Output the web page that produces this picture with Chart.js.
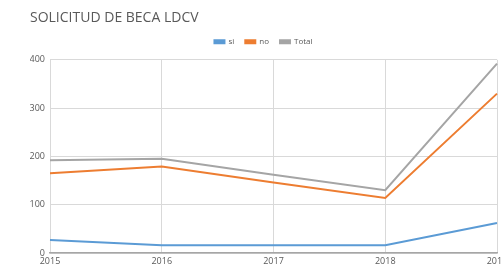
<!DOCTYPE html>
<html>
<head>
<meta charset="utf-8">
<script src="https://cdn.jsdelivr.net/npm/chart.js@4"></script>
<style>
  html, body { margin: 0; padding: 0; background: #fff; overflow: hidden; }
  #wrap { width: 520px; height: 266px; }
</style>
</head>
<body>
<div id="wrap"><canvas id="becaChart" width="520" height="266"></canvas></div>
<script>
  // Datos
  const years = ['2015', '2016', '2017', '2018', '2019'];
  const si = [27, 16, 16, 16, 62];
  const no = [165, 179, 146, 114, 330];
  const total = [192, 195, 162, 130, 392];
  const yTicks = [0, 100, 200, 300, 400];

  const colors = {
    blue: '#5B9BD5',
    orange: '#ED7D31',
    gray: '#A5A5A5',
    text: '#595959',
    grid: '#D9D9D9'
  };

  Chart.defaults.font.family = "'Open Sans', sans-serif";
  Chart.defaults.color = colors.text;

  const lineSet = (label, data, color) => ({
    label: label,
    data: data,
    borderColor: color,
    backgroundColor: color,
    borderWidth: 2,
    pointRadius: 0,
    tension: 0
  });

  // un poco más de aire debajo de la leyenda
  const legendGap = {
    id: 'legendGap',
    afterInit(chart) {
      const fit = chart.legend.fit;
      chart.legend.fit = function() {
        fit.call(this);
        this.height += 4;
      };
    }
  };

  new Chart(document.getElementById('becaChart'), {
    type: 'line',
    data: {
      labels: years,
      datasets: [
        lineSet('si', si, colors.blue),
        lineSet('no', no, colors.orange),
        lineSet('Total', total, colors.gray)
      ]
    },
    options: {
      responsive: false,
      animation: false,
      layout: { padding: { left: 30, right: 23, top: 4, bottom: 0 } },
      plugins: {
        title: {
          display: true,
          text: 'SOLICITUD DE BECA LDCV',
          align: 'start',
          color: colors.text,
          font: { size: 14, weight: 'normal' },
          padding: { top: 6, bottom: 0 }
        },
        legend: {
          position: 'top',
          labels: {
            boxWidth: 10,
            boxHeight: 3,
            font: { size: 8 },
            padding: 11
          }
        },
        tooltip: { enabled: false }
      },
      scales: {
        x: {
          offset: false,
          grid: { color: colors.grid, drawTicks: false },
          border: { color: '#A6A6A6', width: 1.5 },
          ticks: { font: { size: 9 }, padding: 3, maxRotation: 0 },
          afterFit: axis => { axis.height = 13; }
        },
        y: {
          min: 0,
          max: 400,
          afterBuildTicks: axis => { axis.ticks = yTicks.map(v => ({ value: v })); },
          grid: { color: colors.grid, drawTicks: false },
          border: { display: false },
          ticks: { font: { size: 9 }, padding: 5 },
          afterFit: axis => { axis.width = 20; }
        }
      }
    },
    plugins: [legendGap]
  });
</script>
</body>
</html>
